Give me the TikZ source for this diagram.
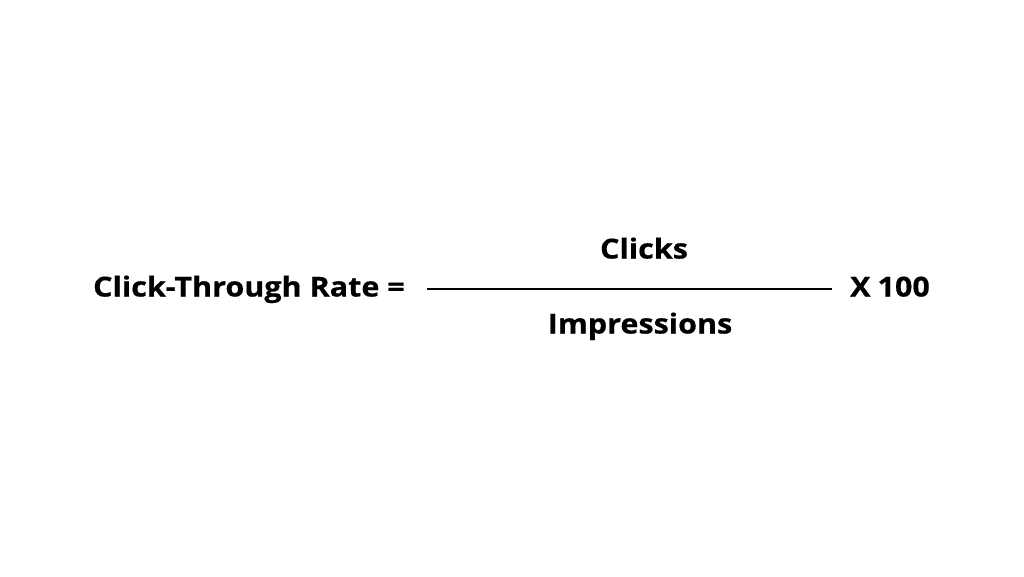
\documentclass[tikz,border=0pt]{standalone}
\usepackage{fontspec}
\setmainfont{Open Sans}[BoldFeatures={FakeStretch=1.11,FakeBold=0.6}]
\begin{document}
\begin{tikzpicture}[x=1pt,y=-1pt,
  lbl/.style={font=\fontsize{27.5}{31}\selectfont\bfseries, inner sep=0pt, anchor=base, text=black},
  fracline/.style={line width=2pt, black}]
\useasboundingbox[fill=white] (0,0) rectangle (1024,576);
\node[lbl] (ctr) at (249,296.5) {Click-Through Rate =};
\node[lbl] (num) at (644,258.5) {Clicks};
\node[lbl] (den) at (640,333.5) {Impressions};
\node[lbl] (mul) at (890,296.5) {X\hspace{7pt}100};
\coordinate (la) at (427,288.5);
\coordinate (lb) at (832,288.5);
\draw[fracline] (la) -- (lb);
\end{tikzpicture}
\end{document}
